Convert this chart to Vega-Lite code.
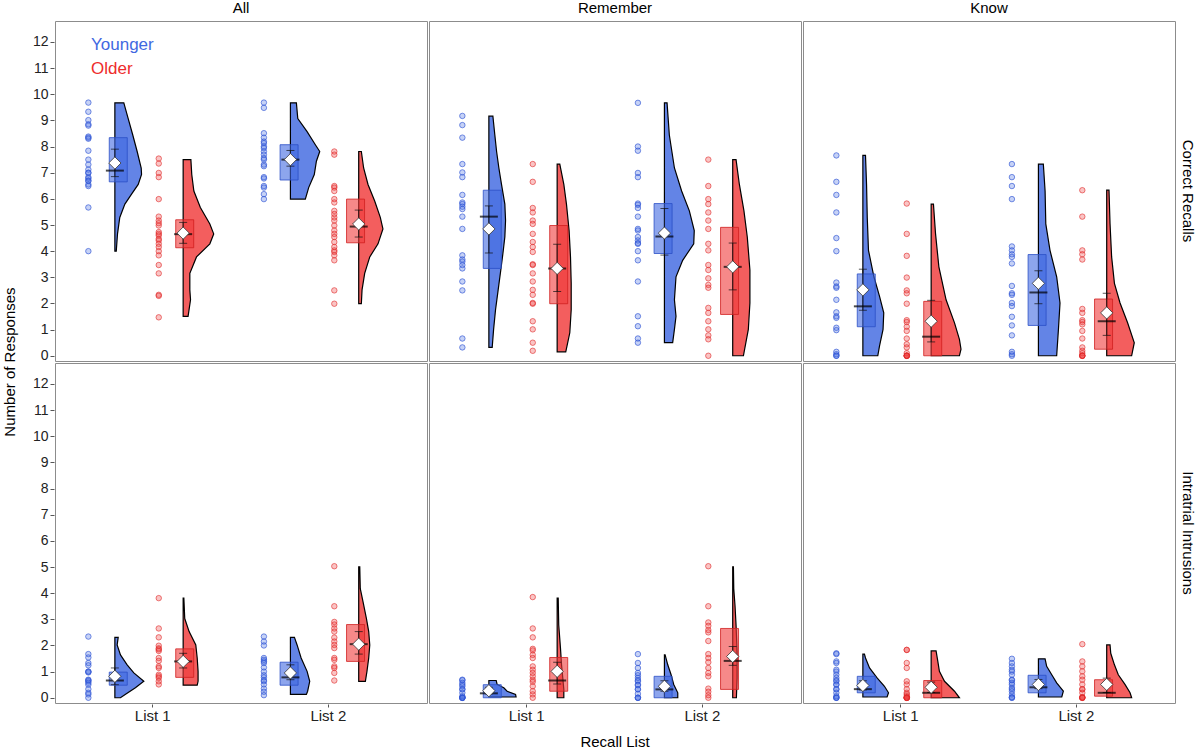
{
"$schema":"https://vega.github.io/schema/vega-lite/v6.json",
"padding":{"left":2,"right":2,"top":1,"bottom":0},
"background":"white",
"config":{"font":"Liberation Sans","view":{"stroke":"#8c8c8c","strokeWidth":1},"axis":{"grid":false,"domain":false,"tickColor":"#555","labelColor":"#222","titleColor":"#000","titleFontWeight":"normal","labelFontSize":14,"titleFontSize":15},"axisY":{"tickCount":13,"labelOverlap":false},"header":{"labelFontSize":15,"labelColor":"#000","labelFontWeight":"normal","titleFontWeight":"normal","titleFontSize":15,"titleColor":"#000"}},
"data":{"values":[
{"m":"All","t":"CR","l":1,"g":"Y","v":9.68},{"m":"All","t":"CR","l":1,"g":"Y","v":9.33},{"m":"All","t":"CR","l":1,"g":"Y","v":9.01},{"m":"All","t":"CR","l":1,"g":"Y","v":8.85},{"m":"All","t":"CR","l":1,"g":"Y","v":8.8},{"m":"All","t":"CR","l":1,"g":"Y","v":8.38},{"m":"All","t":"CR","l":1,"g":"Y","v":8.34},{"m":"All","t":"CR","l":1,"g":"Y","v":8.3},{"m":"All","t":"CR","l":1,"g":"Y","v":7.84},{"m":"All","t":"CR","l":1,"g":"Y","v":7.5},{"m":"All","t":"CR","l":1,"g":"Y","v":7.31},{"m":"All","t":"CR","l":1,"g":"Y","v":7.12},{"m":"All","t":"CR","l":1,"g":"Y","v":7.0},{"m":"All","t":"CR","l":1,"g":"Y","v":6.99},{"m":"All","t":"CR","l":1,"g":"Y","v":6.83},{"m":"All","t":"CR","l":1,"g":"Y","v":6.78},{"m":"All","t":"CR","l":1,"g":"Y","v":6.7},{"m":"All","t":"CR","l":1,"g":"Y","v":6.68},{"m":"All","t":"CR","l":1,"g":"Y","v":6.55},{"m":"All","t":"CR","l":1,"g":"Y","v":6.49},{"m":"All","t":"CR","l":1,"g":"Y","v":5.67},{"m":"All","t":"CR","l":1,"g":"Y","v":4.0},
{"m":"All","t":"CR","l":1,"g":"O","v":7.54},{"m":"All","t":"CR","l":1,"g":"O","v":7.35},{"m":"All","t":"CR","l":1,"g":"O","v":6.99},{"m":"All","t":"CR","l":1,"g":"O","v":6.83},{"m":"All","t":"CR","l":1,"g":"O","v":5.99},{"m":"All","t":"CR","l":1,"g":"O","v":5.32},{"m":"All","t":"CR","l":1,"g":"O","v":5.17},{"m":"All","t":"CR","l":1,"g":"O","v":5.07},{"m":"All","t":"CR","l":1,"g":"O","v":4.98},{"m":"All","t":"CR","l":1,"g":"O","v":4.73},{"m":"All","t":"CR","l":1,"g":"O","v":4.66},{"m":"All","t":"CR","l":1,"g":"O","v":4.6},{"m":"All","t":"CR","l":1,"g":"O","v":4.47},{"m":"All","t":"CR","l":1,"g":"O","v":4.41},{"m":"All","t":"CR","l":1,"g":"O","v":4.28},{"m":"All","t":"CR","l":1,"g":"O","v":4.16},{"m":"All","t":"CR","l":1,"g":"O","v":4.0},{"m":"All","t":"CR","l":1,"g":"O","v":3.84},{"m":"All","t":"CR","l":1,"g":"O","v":3.47},{"m":"All","t":"CR","l":1,"g":"O","v":3.15},{"m":"All","t":"CR","l":1,"g":"O","v":2.33},{"m":"All","t":"CR","l":1,"g":"O","v":2.29},{"m":"All","t":"CR","l":1,"g":"O","v":1.47},
{"m":"All","t":"CR","l":2,"g":"Y","v":9.68},{"m":"All","t":"CR","l":2,"g":"Y","v":9.48},{"m":"All","t":"CR","l":2,"g":"Y","v":8.51},{"m":"All","t":"CR","l":2,"g":"Y","v":8.34},{"m":"All","t":"CR","l":2,"g":"Y","v":8.19},{"m":"All","t":"CR","l":2,"g":"Y","v":8.13},{"m":"All","t":"CR","l":2,"g":"Y","v":8.0},{"m":"All","t":"CR","l":2,"g":"Y","v":7.94},{"m":"All","t":"CR","l":2,"g":"Y","v":7.81},{"m":"All","t":"CR","l":2,"g":"Y","v":7.69},{"m":"All","t":"CR","l":2,"g":"Y","v":7.56},{"m":"All","t":"CR","l":2,"g":"Y","v":7.5},{"m":"All","t":"CR","l":2,"g":"Y","v":7.31},{"m":"All","t":"CR","l":2,"g":"Y","v":7.25},{"m":"All","t":"CR","l":2,"g":"Y","v":6.83},{"m":"All","t":"CR","l":2,"g":"Y","v":6.78},{"m":"All","t":"CR","l":2,"g":"Y","v":6.49},{"m":"All","t":"CR","l":2,"g":"Y","v":6.43},{"m":"All","t":"CR","l":2,"g":"Y","v":6.18},{"m":"All","t":"CR","l":2,"g":"Y","v":5.99},
{"m":"All","t":"CR","l":2,"g":"O","v":7.81},{"m":"All","t":"CR","l":2,"g":"O","v":7.69},{"m":"All","t":"CR","l":2,"g":"O","v":6.49},{"m":"All","t":"CR","l":2,"g":"O","v":6.43},{"m":"All","t":"CR","l":2,"g":"O","v":6.3},{"m":"All","t":"CR","l":2,"g":"O","v":5.99},{"m":"All","t":"CR","l":2,"g":"O","v":5.86},{"m":"All","t":"CR","l":2,"g":"O","v":5.54},{"m":"All","t":"CR","l":2,"g":"O","v":5.42},{"m":"All","t":"CR","l":2,"g":"O","v":5.29},{"m":"All","t":"CR","l":2,"g":"O","v":5.17},{"m":"All","t":"CR","l":2,"g":"O","v":4.98},{"m":"All","t":"CR","l":2,"g":"O","v":4.79},{"m":"All","t":"CR","l":2,"g":"O","v":4.66},{"m":"All","t":"CR","l":2,"g":"O","v":4.54},{"m":"All","t":"CR","l":2,"g":"O","v":4.35},{"m":"All","t":"CR","l":2,"g":"O","v":4.16},{"m":"All","t":"CR","l":2,"g":"O","v":4.03},{"m":"All","t":"CR","l":2,"g":"O","v":3.97},{"m":"All","t":"CR","l":2,"g":"O","v":3.84},{"m":"All","t":"CR","l":2,"g":"O","v":3.65},{"m":"All","t":"CR","l":2,"g":"O","v":2.5},{"m":"All","t":"CR","l":2,"g":"O","v":1.99},
{"m":"Remember","t":"CR","l":1,"g":"Y","v":9.17},{"m":"Remember","t":"CR","l":1,"g":"Y","v":8.82},{"m":"Remember","t":"CR","l":1,"g":"Y","v":8.34},{"m":"Remember","t":"CR","l":1,"g":"Y","v":7.33},{"m":"Remember","t":"CR","l":1,"g":"Y","v":7.01},{"m":"Remember","t":"CR","l":1,"g":"Y","v":6.83},{"m":"Remember","t":"CR","l":1,"g":"Y","v":6.15},{"m":"Remember","t":"CR","l":1,"g":"Y","v":5.86},{"m":"Remember","t":"CR","l":1,"g":"Y","v":5.8},{"m":"Remember","t":"CR","l":1,"g":"Y","v":5.7},{"m":"Remember","t":"CR","l":1,"g":"Y","v":5.61},{"m":"Remember","t":"CR","l":1,"g":"Y","v":5.32},{"m":"Remember","t":"CR","l":1,"g":"Y","v":4.85},{"m":"Remember","t":"CR","l":1,"g":"Y","v":3.84},{"m":"Remember","t":"CR","l":1,"g":"Y","v":3.68},{"m":"Remember","t":"CR","l":1,"g":"Y","v":3.6},{"m":"Remember","t":"CR","l":1,"g":"Y","v":3.47},{"m":"Remember","t":"CR","l":1,"g":"Y","v":3.34},{"m":"Remember","t":"CR","l":1,"g":"Y","v":2.84},{"m":"Remember","t":"CR","l":1,"g":"Y","v":2.5},{"m":"Remember","t":"CR","l":1,"g":"Y","v":0.66},{"m":"Remember","t":"CR","l":1,"g":"Y","v":0.32},
{"m":"Remember","t":"CR","l":1,"g":"O","v":7.33},{"m":"Remember","t":"CR","l":1,"g":"O","v":6.65},{"m":"Remember","t":"CR","l":1,"g":"O","v":5.65},{"m":"Remember","t":"CR","l":1,"g":"O","v":5.48},{"m":"Remember","t":"CR","l":1,"g":"O","v":5.17},{"m":"Remember","t":"CR","l":1,"g":"O","v":5.04},{"m":"Remember","t":"CR","l":1,"g":"O","v":4.66},{"m":"Remember","t":"CR","l":1,"g":"O","v":4.35},{"m":"Remember","t":"CR","l":1,"g":"O","v":4.16},{"m":"Remember","t":"CR","l":1,"g":"O","v":3.97},{"m":"Remember","t":"CR","l":1,"g":"O","v":3.5},{"m":"Remember","t":"CR","l":1,"g":"O","v":3.47},{"m":"Remember","t":"CR","l":1,"g":"O","v":3.15},{"m":"Remember","t":"CR","l":1,"g":"O","v":2.84},{"m":"Remember","t":"CR","l":1,"g":"O","v":2.52},{"m":"Remember","t":"CR","l":1,"g":"O","v":2.33},{"m":"Remember","t":"CR","l":1,"g":"O","v":2.02},{"m":"Remember","t":"CR","l":1,"g":"O","v":1.99},{"m":"Remember","t":"CR","l":1,"g":"O","v":1.32},{"m":"Remember","t":"CR","l":1,"g":"O","v":1.01},{"m":"Remember","t":"CR","l":1,"g":"O","v":0.5},{"m":"Remember","t":"CR","l":1,"g":"O","v":0.19},
{"m":"Remember","t":"CR","l":2,"g":"Y","v":9.67},{"m":"Remember","t":"CR","l":2,"g":"Y","v":8.0},{"m":"Remember","t":"CR","l":2,"g":"Y","v":7.84},{"m":"Remember","t":"CR","l":2,"g":"Y","v":6.99},{"m":"Remember","t":"CR","l":2,"g":"Y","v":6.83},{"m":"Remember","t":"CR","l":2,"g":"Y","v":5.82},{"m":"Remember","t":"CR","l":2,"g":"Y","v":5.77},{"m":"Remember","t":"CR","l":2,"g":"Y","v":5.65},{"m":"Remember","t":"CR","l":2,"g":"Y","v":5.32},{"m":"Remember","t":"CR","l":2,"g":"Y","v":4.85},{"m":"Remember","t":"CR","l":2,"g":"Y","v":4.79},{"m":"Remember","t":"CR","l":2,"g":"Y","v":4.54},{"m":"Remember","t":"CR","l":2,"g":"Y","v":4.41},{"m":"Remember","t":"CR","l":2,"g":"Y","v":4.31},{"m":"Remember","t":"CR","l":2,"g":"Y","v":4.28},{"m":"Remember","t":"CR","l":2,"g":"Y","v":4.0},{"m":"Remember","t":"CR","l":2,"g":"Y","v":3.65},{"m":"Remember","t":"CR","l":2,"g":"Y","v":2.84},{"m":"Remember","t":"CR","l":2,"g":"Y","v":1.51},{"m":"Remember","t":"CR","l":2,"g":"Y","v":1.13},{"m":"Remember","t":"CR","l":2,"g":"Y","v":0.66},{"m":"Remember","t":"CR","l":2,"g":"Y","v":0.5},
{"m":"Remember","t":"CR","l":2,"g":"O","v":7.5},{"m":"Remember","t":"CR","l":2,"g":"O","v":6.49},{"m":"Remember","t":"CR","l":2,"g":"O","v":5.99},{"m":"Remember","t":"CR","l":2,"g":"O","v":5.8},{"m":"Remember","t":"CR","l":2,"g":"O","v":5.48},{"m":"Remember","t":"CR","l":2,"g":"O","v":5.17},{"m":"Remember","t":"CR","l":2,"g":"O","v":4.85},{"m":"Remember","t":"CR","l":2,"g":"O","v":4.28},{"m":"Remember","t":"CR","l":2,"g":"O","v":4.03},{"m":"Remember","t":"CR","l":2,"g":"O","v":3.47},{"m":"Remember","t":"CR","l":2,"g":"O","v":3.28},{"m":"Remember","t":"CR","l":2,"g":"O","v":2.96},{"m":"Remember","t":"CR","l":2,"g":"O","v":2.71},{"m":"Remember","t":"CR","l":2,"g":"O","v":2.6},{"m":"Remember","t":"CR","l":2,"g":"O","v":1.83},{"m":"Remember","t":"CR","l":2,"g":"O","v":1.64},{"m":"Remember","t":"CR","l":2,"g":"O","v":1.32},{"m":"Remember","t":"CR","l":2,"g":"O","v":1.01},{"m":"Remember","t":"CR","l":2,"g":"O","v":0.78},{"m":"Remember","t":"CR","l":2,"g":"O","v":0.63},{"m":"Remember","t":"CR","l":2,"g":"O","v":0.0},
{"m":"Know","t":"CR","l":1,"g":"Y","v":7.66},{"m":"Know","t":"CR","l":1,"g":"Y","v":6.65},{"m":"Know","t":"CR","l":1,"g":"Y","v":6.15},{"m":"Know","t":"CR","l":1,"g":"Y","v":5.48},{"m":"Know","t":"CR","l":1,"g":"Y","v":4.5},{"m":"Know","t":"CR","l":1,"g":"Y","v":4.0},{"m":"Know","t":"CR","l":1,"g":"Y","v":2.8},{"m":"Know","t":"CR","l":1,"g":"Y","v":2.65},{"m":"Know","t":"CR","l":1,"g":"Y","v":2.6},{"m":"Know","t":"CR","l":1,"g":"Y","v":2.14},{"m":"Know","t":"CR","l":1,"g":"Y","v":1.66},{"m":"Know","t":"CR","l":1,"g":"Y","v":1.51},{"m":"Know","t":"CR","l":1,"g":"Y","v":1.45},{"m":"Know","t":"CR","l":1,"g":"Y","v":1.07},{"m":"Know","t":"CR","l":1,"g":"Y","v":0.98},{"m":"Know","t":"CR","l":1,"g":"Y","v":0.15},{"m":"Know","t":"CR","l":1,"g":"Y","v":0.06},{"m":"Know","t":"CR","l":1,"g":"Y","v":0.0},{"m":"Know","t":"CR","l":1,"g":"Y","v":0.0},
{"m":"Know","t":"CR","l":1,"g":"O","v":5.82},{"m":"Know","t":"CR","l":1,"g":"O","v":4.66},{"m":"Know","t":"CR","l":1,"g":"O","v":3.82},{"m":"Know","t":"CR","l":1,"g":"O","v":2.99},{"m":"Know","t":"CR","l":1,"g":"O","v":2.5},{"m":"Know","t":"CR","l":1,"g":"O","v":2.39},{"m":"Know","t":"CR","l":1,"g":"O","v":1.99},{"m":"Know","t":"CR","l":1,"g":"O","v":1.36},{"m":"Know","t":"CR","l":1,"g":"O","v":1.29},{"m":"Know","t":"CR","l":1,"g":"O","v":1.11},{"m":"Know","t":"CR","l":1,"g":"O","v":0.95},{"m":"Know","t":"CR","l":1,"g":"O","v":0.66},{"m":"Know","t":"CR","l":1,"g":"O","v":0.44},{"m":"Know","t":"CR","l":1,"g":"O","v":0.32},{"m":"Know","t":"CR","l":1,"g":"O","v":0.1},{"m":"Know","t":"CR","l":1,"g":"O","v":0.0},{"m":"Know","t":"CR","l":1,"g":"O","v":0.0},{"m":"Know","t":"CR","l":1,"g":"O","v":0.0},{"m":"Know","t":"CR","l":1,"g":"O","v":0.0},{"m":"Know","t":"CR","l":1,"g":"O","v":0.0},
{"m":"Know","t":"CR","l":2,"g":"Y","v":7.33},{"m":"Know","t":"CR","l":2,"g":"Y","v":6.83},{"m":"Know","t":"CR","l":2,"g":"Y","v":6.49},{"m":"Know","t":"CR","l":2,"g":"Y","v":5.99},{"m":"Know","t":"CR","l":2,"g":"Y","v":4.18},{"m":"Know","t":"CR","l":2,"g":"Y","v":4.03},{"m":"Know","t":"CR","l":2,"g":"Y","v":3.88},{"m":"Know","t":"CR","l":2,"g":"Y","v":3.78},{"m":"Know","t":"CR","l":2,"g":"Y","v":3.53},{"m":"Know","t":"CR","l":2,"g":"Y","v":2.67},{"m":"Know","t":"CR","l":2,"g":"Y","v":2.39},{"m":"Know","t":"CR","l":2,"g":"Y","v":2.33},{"m":"Know","t":"CR","l":2,"g":"Y","v":2.02},{"m":"Know","t":"CR","l":2,"g":"Y","v":1.9},{"m":"Know","t":"CR","l":2,"g":"Y","v":1.49},{"m":"Know","t":"CR","l":2,"g":"Y","v":1.16},{"m":"Know","t":"CR","l":2,"g":"Y","v":0.78},{"m":"Know","t":"CR","l":2,"g":"Y","v":0.15},{"m":"Know","t":"CR","l":2,"g":"Y","v":0.06},{"m":"Know","t":"CR","l":2,"g":"Y","v":0.0},
{"m":"Know","t":"CR","l":2,"g":"O","v":6.33},{"m":"Know","t":"CR","l":2,"g":"O","v":5.32},{"m":"Know","t":"CR","l":2,"g":"O","v":4.03},{"m":"Know","t":"CR","l":2,"g":"O","v":3.88},{"m":"Know","t":"CR","l":2,"g":"O","v":3.68},{"m":"Know","t":"CR","l":2,"g":"O","v":1.79},{"m":"Know","t":"CR","l":2,"g":"O","v":1.64},{"m":"Know","t":"CR","l":2,"g":"O","v":1.36},{"m":"Know","t":"CR","l":2,"g":"O","v":1.29},{"m":"Know","t":"CR","l":2,"g":"O","v":1.2},{"m":"Know","t":"CR","l":2,"g":"O","v":0.95},{"m":"Know","t":"CR","l":2,"g":"O","v":0.66},{"m":"Know","t":"CR","l":2,"g":"O","v":0.32},{"m":"Know","t":"CR","l":2,"g":"O","v":0.19},{"m":"Know","t":"CR","l":2,"g":"O","v":0.1},{"m":"Know","t":"CR","l":2,"g":"O","v":0.0},{"m":"Know","t":"CR","l":2,"g":"O","v":0.0},{"m":"Know","t":"CR","l":2,"g":"O","v":0.0},{"m":"Know","t":"CR","l":2,"g":"O","v":0.0},
{"m":"All","t":"II","l":1,"g":"Y","v":2.34},{"m":"All","t":"II","l":1,"g":"Y","v":1.67},{"m":"All","t":"II","l":1,"g":"Y","v":1.54},{"m":"All","t":"II","l":1,"g":"Y","v":1.33},{"m":"All","t":"II","l":1,"g":"Y","v":1.24},{"m":"All","t":"II","l":1,"g":"Y","v":1.0},{"m":"All","t":"II","l":1,"g":"Y","v":1.0},{"m":"All","t":"II","l":1,"g":"Y","v":0.97},{"m":"All","t":"II","l":1,"g":"Y","v":0.69},{"m":"All","t":"II","l":1,"g":"Y","v":0.67},{"m":"All","t":"II","l":1,"g":"Y","v":0.63},{"m":"All","t":"II","l":1,"g":"Y","v":0.57},{"m":"All","t":"II","l":1,"g":"Y","v":0.5},{"m":"All","t":"II","l":1,"g":"Y","v":0.33},{"m":"All","t":"II","l":1,"g":"Y","v":0.19},{"m":"All","t":"II","l":1,"g":"Y","v":0.13},{"m":"All","t":"II","l":1,"g":"Y","v":0.0},
{"m":"All","t":"II","l":1,"g":"O","v":3.81},{"m":"All","t":"II","l":1,"g":"O","v":2.65},{"m":"All","t":"II","l":1,"g":"O","v":2.31},{"m":"All","t":"II","l":1,"g":"O","v":1.99},{"m":"All","t":"II","l":1,"g":"O","v":1.89},{"m":"All","t":"II","l":1,"g":"O","v":1.85},{"m":"All","t":"II","l":1,"g":"O","v":1.79},{"m":"All","t":"II","l":1,"g":"O","v":1.52},{"m":"All","t":"II","l":1,"g":"O","v":1.41},{"m":"All","t":"II","l":1,"g":"O","v":1.2},{"m":"All","t":"II","l":1,"g":"O","v":1.14},{"m":"All","t":"II","l":1,"g":"O","v":0.88},{"m":"All","t":"II","l":1,"g":"O","v":0.82},{"m":"All","t":"II","l":1,"g":"O","v":0.76},{"m":"All","t":"II","l":1,"g":"O","v":0.63},{"m":"All","t":"II","l":1,"g":"O","v":0.51},
{"m":"All","t":"II","l":2,"g":"Y","v":2.34},{"m":"All","t":"II","l":2,"g":"Y","v":2.15},{"m":"All","t":"II","l":2,"g":"Y","v":2.0},{"m":"All","t":"II","l":2,"g":"Y","v":1.52},{"m":"All","t":"II","l":2,"g":"Y","v":1.45},{"m":"All","t":"II","l":2,"g":"Y","v":1.39},{"m":"All","t":"II","l":2,"g":"Y","v":1.33},{"m":"All","t":"II","l":2,"g":"Y","v":1.16},{"m":"All","t":"II","l":2,"g":"Y","v":1.0},{"m":"All","t":"II","l":2,"g":"Y","v":0.86},{"m":"All","t":"II","l":2,"g":"Y","v":0.78},{"m":"All","t":"II","l":2,"g":"Y","v":0.67},{"m":"All","t":"II","l":2,"g":"Y","v":0.63},{"m":"All","t":"II","l":2,"g":"Y","v":0.51},{"m":"All","t":"II","l":2,"g":"Y","v":0.35},{"m":"All","t":"II","l":2,"g":"Y","v":0.23},{"m":"All","t":"II","l":2,"g":"Y","v":0.1},
{"m":"All","t":"II","l":2,"g":"O","v":5.03},{"m":"All","t":"II","l":2,"g":"O","v":3.5},{"m":"All","t":"II","l":2,"g":"O","v":2.9},{"m":"All","t":"II","l":2,"g":"O","v":2.8},{"m":"All","t":"II","l":2,"g":"O","v":2.65},{"m":"All","t":"II","l":2,"g":"O","v":2.53},{"m":"All","t":"II","l":2,"g":"O","v":2.3},{"m":"All","t":"II","l":2,"g":"O","v":2.15},{"m":"All","t":"II","l":2,"g":"O","v":2.02},{"m":"All","t":"II","l":2,"g":"O","v":1.9},{"m":"All","t":"II","l":2,"g":"O","v":1.52},{"m":"All","t":"II","l":2,"g":"O","v":1.45},{"m":"All","t":"II","l":2,"g":"O","v":1.2},{"m":"All","t":"II","l":2,"g":"O","v":1.14},{"m":"All","t":"II","l":2,"g":"O","v":0.95},{"m":"All","t":"II","l":2,"g":"O","v":0.66},
{"m":"Remember","t":"II","l":1,"g":"Y","v":0.69},{"m":"Remember","t":"II","l":1,"g":"Y","v":0.67},{"m":"Remember","t":"II","l":1,"g":"Y","v":0.57},{"m":"Remember","t":"II","l":1,"g":"Y","v":0.5},{"m":"Remember","t":"II","l":1,"g":"Y","v":0.44},{"m":"Remember","t":"II","l":1,"g":"Y","v":0.33},{"m":"Remember","t":"II","l":1,"g":"Y","v":0.32},{"m":"Remember","t":"II","l":1,"g":"Y","v":0.19},{"m":"Remember","t":"II","l":1,"g":"Y","v":0.06},{"m":"Remember","t":"II","l":1,"g":"Y","v":0.0},{"m":"Remember","t":"II","l":1,"g":"Y","v":0.0},{"m":"Remember","t":"II","l":1,"g":"Y","v":0.0},{"m":"Remember","t":"II","l":1,"g":"Y","v":0.0},{"m":"Remember","t":"II","l":1,"g":"Y","v":0.0},
{"m":"Remember","t":"II","l":1,"g":"O","v":3.85},{"m":"Remember","t":"II","l":1,"g":"O","v":2.65},{"m":"Remember","t":"II","l":1,"g":"O","v":2.31},{"m":"Remember","t":"II","l":1,"g":"O","v":1.87},{"m":"Remember","t":"II","l":1,"g":"O","v":1.81},{"m":"Remember","t":"II","l":1,"g":"O","v":1.64},{"m":"Remember","t":"II","l":1,"g":"O","v":1.52},{"m":"Remember","t":"II","l":1,"g":"O","v":1.2},{"m":"Remember","t":"II","l":1,"g":"O","v":1.07},{"m":"Remember","t":"II","l":1,"g":"O","v":0.95},{"m":"Remember","t":"II","l":1,"g":"O","v":0.82},{"m":"Remember","t":"II","l":1,"g":"O","v":0.69},{"m":"Remember","t":"II","l":1,"g":"O","v":0.61},{"m":"Remember","t":"II","l":1,"g":"O","v":0.44},{"m":"Remember","t":"II","l":1,"g":"O","v":0.25},{"m":"Remember","t":"II","l":1,"g":"O","v":0.13},{"m":"Remember","t":"II","l":1,"g":"O","v":0.0},
{"m":"Remember","t":"II","l":2,"g":"Y","v":1.67},{"m":"Remember","t":"II","l":2,"g":"Y","v":1.33},{"m":"Remember","t":"II","l":2,"g":"Y","v":1.14},{"m":"Remember","t":"II","l":2,"g":"Y","v":0.95},{"m":"Remember","t":"II","l":2,"g":"Y","v":0.86},{"m":"Remember","t":"II","l":2,"g":"Y","v":0.76},{"m":"Remember","t":"II","l":2,"g":"Y","v":0.67},{"m":"Remember","t":"II","l":2,"g":"Y","v":0.63},{"m":"Remember","t":"II","l":2,"g":"Y","v":0.5},{"m":"Remember","t":"II","l":2,"g":"Y","v":0.48},{"m":"Remember","t":"II","l":2,"g":"Y","v":0.33},{"m":"Remember","t":"II","l":2,"g":"Y","v":0.32},{"m":"Remember","t":"II","l":2,"g":"Y","v":0.15},{"m":"Remember","t":"II","l":2,"g":"Y","v":0.0},{"m":"Remember","t":"II","l":2,"g":"Y","v":0.0},{"m":"Remember","t":"II","l":2,"g":"Y","v":0.0},
{"m":"Remember","t":"II","l":2,"g":"O","v":5.03},{"m":"Remember","t":"II","l":2,"g":"O","v":3.5},{"m":"Remember","t":"II","l":2,"g":"O","v":2.88},{"m":"Remember","t":"II","l":2,"g":"O","v":2.75},{"m":"Remember","t":"II","l":2,"g":"O","v":2.59},{"m":"Remember","t":"II","l":2,"g":"O","v":2.5},{"m":"Remember","t":"II","l":2,"g":"O","v":2.17},{"m":"Remember","t":"II","l":2,"g":"O","v":1.67},{"m":"Remember","t":"II","l":2,"g":"O","v":1.52},{"m":"Remember","t":"II","l":2,"g":"O","v":1.36},{"m":"Remember","t":"II","l":2,"g":"O","v":1.14},{"m":"Remember","t":"II","l":2,"g":"O","v":0.95},{"m":"Remember","t":"II","l":2,"g":"O","v":0.82},{"m":"Remember","t":"II","l":2,"g":"O","v":0.35},{"m":"Remember","t":"II","l":2,"g":"O","v":0.23},{"m":"Remember","t":"II","l":2,"g":"O","v":0.1},{"m":"Remember","t":"II","l":2,"g":"O","v":0.0},
{"m":"Know","t":"II","l":1,"g":"Y","v":1.7},{"m":"Know","t":"II","l":1,"g":"Y","v":1.67},{"m":"Know","t":"II","l":1,"g":"Y","v":1.39},{"m":"Know","t":"II","l":1,"g":"Y","v":1.33},{"m":"Know","t":"II","l":1,"g":"Y","v":1.07},{"m":"Know","t":"II","l":1,"g":"Y","v":1.0},{"m":"Know","t":"II","l":1,"g":"Y","v":0.88},{"m":"Know","t":"II","l":1,"g":"Y","v":0.76},{"m":"Know","t":"II","l":1,"g":"Y","v":0.67},{"m":"Know","t":"II","l":1,"g":"Y","v":0.63},{"m":"Know","t":"II","l":1,"g":"Y","v":0.51},{"m":"Know","t":"II","l":1,"g":"Y","v":0.5},{"m":"Know","t":"II","l":1,"g":"Y","v":0.33},{"m":"Know","t":"II","l":1,"g":"Y","v":0.32},{"m":"Know","t":"II","l":1,"g":"Y","v":0.19},{"m":"Know","t":"II","l":1,"g":"Y","v":0.06},{"m":"Know","t":"II","l":1,"g":"Y","v":0.0},{"m":"Know","t":"II","l":1,"g":"Y","v":0.0},{"m":"Know","t":"II","l":1,"g":"Y","v":0.0},
{"m":"Know","t":"II","l":1,"g":"O","v":1.83},{"m":"Know","t":"II","l":1,"g":"O","v":1.83},{"m":"Know","t":"II","l":1,"g":"O","v":1.33},{"m":"Know","t":"II","l":1,"g":"O","v":1.14},{"m":"Know","t":"II","l":1,"g":"O","v":0.63},{"m":"Know","t":"II","l":1,"g":"O","v":0.51},{"m":"Know","t":"II","l":1,"g":"O","v":0.33},{"m":"Know","t":"II","l":1,"g":"O","v":0.19},{"m":"Know","t":"II","l":1,"g":"O","v":0.13},{"m":"Know","t":"II","l":1,"g":"O","v":0.06},{"m":"Know","t":"II","l":1,"g":"O","v":0.0},{"m":"Know","t":"II","l":1,"g":"O","v":0.0},{"m":"Know","t":"II","l":1,"g":"O","v":0.0},{"m":"Know","t":"II","l":1,"g":"O","v":0.0},{"m":"Know","t":"II","l":1,"g":"O","v":0.0},{"m":"Know","t":"II","l":1,"g":"O","v":0.0},
{"m":"Know","t":"II","l":2,"g":"Y","v":1.49},{"m":"Know","t":"II","l":2,"g":"Y","v":1.33},{"m":"Know","t":"II","l":2,"g":"Y","v":1.2},{"m":"Know","t":"II","l":2,"g":"Y","v":1.07},{"m":"Know","t":"II","l":2,"g":"Y","v":1.0},{"m":"Know","t":"II","l":2,"g":"Y","v":0.88},{"m":"Know","t":"II","l":2,"g":"Y","v":0.69},{"m":"Know","t":"II","l":2,"g":"Y","v":0.67},{"m":"Know","t":"II","l":2,"g":"Y","v":0.57},{"m":"Know","t":"II","l":2,"g":"Y","v":0.5},{"m":"Know","t":"II","l":2,"g":"Y","v":0.38},{"m":"Know","t":"II","l":2,"g":"Y","v":0.33},{"m":"Know","t":"II","l":2,"g":"Y","v":0.25},{"m":"Know","t":"II","l":2,"g":"Y","v":0.13},{"m":"Know","t":"II","l":2,"g":"Y","v":0.03},{"m":"Know","t":"II","l":2,"g":"Y","v":0.0},{"m":"Know","t":"II","l":2,"g":"Y","v":0.0},
{"m":"Know","t":"II","l":2,"g":"O","v":2.05},{"m":"Know","t":"II","l":2,"g":"O","v":1.39},{"m":"Know","t":"II","l":2,"g":"O","v":1.2},{"m":"Know","t":"II","l":2,"g":"O","v":1.01},{"m":"Know","t":"II","l":2,"g":"O","v":0.82},{"m":"Know","t":"II","l":2,"g":"O","v":0.69},{"m":"Know","t":"II","l":2,"g":"O","v":0.51},{"m":"Know","t":"II","l":2,"g":"O","v":0.33},{"m":"Know","t":"II","l":2,"g":"O","v":0.32},{"m":"Know","t":"II","l":2,"g":"O","v":0.19},{"m":"Know","t":"II","l":2,"g":"O","v":0.03},{"m":"Know","t":"II","l":2,"g":"O","v":0.0},{"m":"Know","t":"II","l":2,"g":"O","v":0.0},{"m":"Know","t":"II","l":2,"g":"O","v":0.0},{"m":"Know","t":"II","l":2,"g":"O","v":0.0},
{"m":"All","t":"CR","l":1,"g":"Y","q1":6.65,"med":7.08,"q3":8.34,"mean":7.37,"lo":6.85,"hi":7.9},
{"m":"All","t":"CR","l":1,"g":"O","q1":4.13,"med":4.65,"q3":5.2,"mean":4.69,"lo":4.3,"hi":5.1},
{"m":"All","t":"CR","l":2,"g":"Y","q1":6.72,"med":7.5,"q3":8.07,"mean":7.5,"lo":7.25,"hi":7.85},
{"m":"All","t":"CR","l":2,"g":"O","q1":4.32,"med":4.94,"q3":5.99,"mean":5.04,"lo":4.54,"hi":5.57},
{"m":"Remember","t":"CR","l":1,"g":"Y","q1":3.34,"med":5.32,"q3":6.33,"mean":4.85,"lo":3.93,"hi":5.73},
{"m":"Remember","t":"CR","l":1,"g":"O","q1":1.99,"med":3.34,"q3":4.98,"mean":3.34,"lo":2.46,"hi":4.26},
{"m":"Remember","t":"CR","l":2,"g":"Y","q1":3.91,"med":4.56,"q3":5.82,"mean":4.69,"lo":3.85,"hi":5.63},
{"m":"Remember","t":"CR","l":2,"g":"O","q1":1.58,"med":3.4,"q3":4.91,"mean":3.4,"lo":2.52,"hi":4.31},
{"m":"Know","t":"CR","l":1,"g":"Y","q1":1.11,"med":1.89,"q3":3.13,"mean":2.52,"lo":1.74,"hi":3.31},
{"m":"Know","t":"CR","l":1,"g":"O","q1":0.0,"med":0.73,"q3":2.08,"mean":1.32,"lo":0.53,"hi":2.12},
{"m":"Know","t":"CR","l":2,"g":"Y","q1":1.16,"med":2.42,"q3":3.87,"mean":2.77,"lo":1.99,"hi":3.25},
{"m":"Know","t":"CR","l":2,"g":"O","q1":0.25,"med":1.32,"q3":2.17,"mean":1.64,"lo":0.78,"hi":2.39},
{"m":"All","t":"II","l":1,"g":"Y","q1":0.48,"med":0.66,"q3":0.98,"mean":0.82,"lo":0.5,"hi":1.14},
{"m":"All","t":"II","l":1,"g":"O","q1":0.78,"med":1.39,"q3":1.87,"mean":1.39,"lo":1.14,"hi":1.7},
{"m":"All","t":"II","l":2,"g":"Y","q1":0.48,"med":0.78,"q3":1.36,"mean":0.95,"lo":0.69,"hi":1.26},
{"m":"All","t":"II","l":2,"g":"O","q1":1.39,"med":2.05,"q3":2.8,"mean":2.05,"lo":1.67,"hi":2.53},
{"m":"Remember","t":"II","l":1,"g":"Y","q1":0.0,"med":0.17,"q3":0.5,"mean":0.27,"lo":0.15,"hi":0.4},
{"m":"Remember","t":"II","l":1,"g":"O","q1":0.25,"med":0.66,"q3":1.54,"mean":1.01,"lo":0.53,"hi":1.36},
{"m":"Remember","t":"II","l":2,"g":"Y","q1":0.0,"med":0.32,"q3":0.82,"mean":0.44,"lo":0.25,"hi":0.65},
{"m":"Remember","t":"II","l":2,"g":"O","q1":0.32,"med":1.41,"q3":2.65,"mean":1.58,"lo":1.24,"hi":1.96},
{"m":"Know","t":"II","l":1,"g":"Y","q1":0.19,"med":0.33,"q3":0.82,"mean":0.47,"lo":0.3,"hi":0.65},
{"m":"Know","t":"II","l":1,"g":"O","q1":0.0,"med":0.19,"q3":0.66,"mean":0.4,"lo":0.2,"hi":0.6},
{"m":"Know","t":"II","l":2,"g":"Y","q1":0.19,"med":0.4,"q3":0.86,"mean":0.51,"lo":0.35,"hi":0.7},
{"m":"Know","t":"II","l":2,"g":"O","q1":0.06,"med":0.19,"q3":0.69,"mean":0.51,"lo":0.2,"hi":0.75},
{"m":"All","t":"CR","l":1,"g":"Y","v":9.67,"w":0.051},{"m":"All","t":"CR","l":1,"g":"Y","v":9.07,"w":0.076},{"m":"All","t":"CR","l":1,"g":"Y","v":8.44,"w":0.102},{"m":"All","t":"CR","l":1,"g":"Y","v":7.81,"w":0.127},{"m":"All","t":"CR","l":1,"g":"Y","v":7.18,"w":0.15},{"m":"All","t":"CR","l":1,"g":"Y","v":6.93,"w":0.152},{"m":"All","t":"CR","l":1,"g":"Y","v":6.55,"w":0.133},{"m":"All","t":"CR","l":1,"g":"Y","v":6.18,"w":0.095},{"m":"All","t":"CR","l":1,"g":"Y","v":5.8,"w":0.057},{"m":"All","t":"CR","l":1,"g":"Y","v":5.29,"w":0.028},{"m":"All","t":"CR","l":1,"g":"Y","v":4.66,"w":0.015},{"m":"All","t":"CR","l":1,"g":"Y","v":4.0,"w":0.008},
{"m":"All","t":"CR","l":1,"g":"O","v":7.5,"w":0.044},{"m":"All","t":"CR","l":1,"g":"O","v":6.93,"w":0.049},{"m":"All","t":"CR","l":1,"g":"O","v":6.3,"w":0.061},{"m":"All","t":"CR","l":1,"g":"O","v":5.67,"w":0.098},{"m":"All","t":"CR","l":1,"g":"O","v":5.04,"w":0.152},{"m":"All","t":"CR","l":1,"g":"O","v":4.66,"w":0.174},{"m":"All","t":"CR","l":1,"g":"O","v":4.28,"w":0.152},{"m":"All","t":"CR","l":1,"g":"O","v":3.78,"w":0.076},{"m":"All","t":"CR","l":1,"g":"O","v":3.15,"w":0.038},{"m":"All","t":"CR","l":1,"g":"O","v":2.52,"w":0.038},{"m":"All","t":"CR","l":1,"g":"O","v":2.14,"w":0.042},{"m":"All","t":"CR","l":1,"g":"O","v":1.51,"w":0.028},
{"m":"All","t":"CR","l":2,"g":"Y","v":9.67,"w":0.034},{"m":"All","t":"CR","l":2,"g":"Y","v":9.07,"w":0.042},{"m":"All","t":"CR","l":2,"g":"Y","v":8.57,"w":0.095},{"m":"All","t":"CR","l":2,"g":"Y","v":8.07,"w":0.142},{"m":"All","t":"CR","l":2,"g":"Y","v":7.81,"w":0.167},{"m":"All","t":"CR","l":2,"g":"Y","v":7.44,"w":0.148},{"m":"All","t":"CR","l":2,"g":"Y","v":6.93,"w":0.136},{"m":"All","t":"CR","l":2,"g":"Y","v":6.43,"w":0.104},{"m":"All","t":"CR","l":2,"g":"Y","v":5.99,"w":0.085},
{"m":"All","t":"CR","l":2,"g":"O","v":7.81,"w":0.015},{"m":"All","t":"CR","l":2,"g":"O","v":7.18,"w":0.028},{"m":"All","t":"CR","l":2,"g":"O","v":6.55,"w":0.053},{"m":"All","t":"CR","l":2,"g":"O","v":5.92,"w":0.091},{"m":"All","t":"CR","l":2,"g":"O","v":5.29,"w":0.123},{"m":"All","t":"CR","l":2,"g":"O","v":4.85,"w":0.138},{"m":"All","t":"CR","l":2,"g":"O","v":4.28,"w":0.11},{"m":"All","t":"CR","l":2,"g":"O","v":3.78,"w":0.063},{"m":"All","t":"CR","l":2,"g":"O","v":3.15,"w":0.034},{"m":"All","t":"CR","l":2,"g":"O","v":2.52,"w":0.019},{"m":"All","t":"CR","l":2,"g":"O","v":1.99,"w":0.015},
{"m":"Remember","t":"CR","l":1,"g":"Y","v":9.16,"w":0.023},{"m":"Remember","t":"CR","l":1,"g":"Y","v":8.44,"w":0.034},{"m":"Remember","t":"CR","l":1,"g":"Y","v":7.81,"w":0.044},{"m":"Remember","t":"CR","l":1,"g":"Y","v":7.18,"w":0.057},{"m":"Remember","t":"CR","l":1,"g":"Y","v":6.55,"w":0.072},{"m":"Remember","t":"CR","l":1,"g":"Y","v":5.8,"w":0.091},{"m":"Remember","t":"CR","l":1,"g":"Y","v":5.17,"w":0.095},{"m":"Remember","t":"CR","l":1,"g":"Y","v":4.54,"w":0.091},{"m":"Remember","t":"CR","l":1,"g":"Y","v":3.91,"w":0.08},{"m":"Remember","t":"CR","l":1,"g":"Y","v":3.28,"w":0.068},{"m":"Remember","t":"CR","l":1,"g":"Y","v":2.52,"w":0.053},{"m":"Remember","t":"CR","l":1,"g":"Y","v":1.76,"w":0.038},{"m":"Remember","t":"CR","l":1,"g":"Y","v":1.01,"w":0.027},{"m":"Remember","t":"CR","l":1,"g":"Y","v":0.32,"w":0.019},
{"m":"Remember","t":"CR","l":1,"g":"O","v":7.33,"w":0.015},{"m":"Remember","t":"CR","l":1,"g":"O","v":6.55,"w":0.038},{"m":"Remember","t":"CR","l":1,"g":"O","v":5.8,"w":0.053},{"m":"Remember","t":"CR","l":1,"g":"O","v":4.79,"w":0.068},{"m":"Remember","t":"CR","l":1,"g":"O","v":3.78,"w":0.076},{"m":"Remember","t":"CR","l":1,"g":"O","v":2.77,"w":0.08},{"m":"Remember","t":"CR","l":1,"g":"O","v":1.76,"w":0.08},{"m":"Remember","t":"CR","l":1,"g":"O","v":0.88,"w":0.072},{"m":"Remember","t":"CR","l":1,"g":"O","v":0.15,"w":0.049},
{"m":"Remember","t":"CR","l":2,"g":"Y","v":9.67,"w":0.015},{"m":"Remember","t":"CR","l":2,"g":"Y","v":8.44,"w":0.028},{"m":"Remember","t":"CR","l":2,"g":"Y","v":7.18,"w":0.057},{"m":"Remember","t":"CR","l":2,"g":"Y","v":6.3,"w":0.098},{"m":"Remember","t":"CR","l":2,"g":"Y","v":5.54,"w":0.142},{"m":"Remember","t":"CR","l":2,"g":"Y","v":4.79,"w":0.17},{"m":"Remember","t":"CR","l":2,"g":"Y","v":4.28,"w":0.167},{"m":"Remember","t":"CR","l":2,"g":"Y","v":3.65,"w":0.104},{"m":"Remember","t":"CR","l":2,"g":"Y","v":3.02,"w":0.066},{"m":"Remember","t":"CR","l":2,"g":"Y","v":2.14,"w":0.057},{"m":"Remember","t":"CR","l":2,"g":"Y","v":1.51,"w":0.066},{"m":"Remember","t":"CR","l":2,"g":"Y","v":1.01,"w":0.057},{"m":"Remember","t":"CR","l":2,"g":"Y","v":0.5,"w":0.047},
{"m":"Remember","t":"CR","l":2,"g":"O","v":7.5,"w":0.019},{"m":"Remember","t":"CR","l":2,"g":"O","v":6.55,"w":0.038},{"m":"Remember","t":"CR","l":2,"g":"O","v":5.54,"w":0.064},{"m":"Remember","t":"CR","l":2,"g":"O","v":4.54,"w":0.083},{"m":"Remember","t":"CR","l":2,"g":"O","v":3.28,"w":0.098},{"m":"Remember","t":"CR","l":2,"g":"O","v":2.02,"w":0.098},{"m":"Remember","t":"CR","l":2,"g":"O","v":1.01,"w":0.089},{"m":"Remember","t":"CR","l":2,"g":"O","v":0.0,"w":0.061},
{"m":"Know","t":"CR","l":1,"g":"Y","v":7.66,"w":0.015},{"m":"Know","t":"CR","l":1,"g":"Y","v":6.55,"w":0.021},{"m":"Know","t":"CR","l":1,"g":"Y","v":5.29,"w":0.025},{"m":"Know","t":"CR","l":1,"g":"Y","v":4.03,"w":0.032},{"m":"Know","t":"CR","l":1,"g":"Y","v":3.02,"w":0.063},{"m":"Know","t":"CR","l":1,"g":"Y","v":2.27,"w":0.095},{"m":"Know","t":"CR","l":1,"g":"Y","v":1.64,"w":0.119},{"m":"Know","t":"CR","l":1,"g":"Y","v":1.01,"w":0.115},{"m":"Know","t":"CR","l":1,"g":"Y","v":0.38,"w":0.095},{"m":"Know","t":"CR","l":1,"g":"Y","v":0.0,"w":0.085},
{"m":"Know","t":"CR","l":1,"g":"O","v":5.8,"w":0.013},{"m":"Know","t":"CR","l":1,"g":"O","v":4.66,"w":0.025},{"m":"Know","t":"CR","l":1,"g":"O","v":3.4,"w":0.044},{"m":"Know","t":"CR","l":1,"g":"O","v":2.14,"w":0.085},{"m":"Know","t":"CR","l":1,"g":"O","v":1.26,"w":0.133},{"m":"Know","t":"CR","l":1,"g":"O","v":0.63,"w":0.161},{"m":"Know","t":"CR","l":1,"g":"O","v":0.25,"w":0.17},{"m":"Know","t":"CR","l":1,"g":"O","v":0.0,"w":0.161},
{"m":"Know","t":"CR","l":2,"g":"Y","v":7.33,"w":0.028},{"m":"Know","t":"CR","l":2,"g":"Y","v":6.3,"w":0.038},{"m":"Know","t":"CR","l":2,"g":"Y","v":5.04,"w":0.042},{"m":"Know","t":"CR","l":2,"g":"Y","v":4.03,"w":0.066},{"m":"Know","t":"CR","l":2,"g":"Y","v":3.02,"w":0.104},{"m":"Know","t":"CR","l":2,"g":"Y","v":2.02,"w":0.123},{"m":"Know","t":"CR","l":2,"g":"Y","v":1.01,"w":0.114},{"m":"Know","t":"CR","l":2,"g":"Y","v":0.0,"w":0.104},
{"m":"Know","t":"CR","l":2,"g":"O","v":6.33,"w":0.013},{"m":"Know","t":"CR","l":2,"g":"O","v":5.04,"w":0.019},{"m":"Know","t":"CR","l":2,"g":"O","v":3.78,"w":0.028},{"m":"Know","t":"CR","l":2,"g":"O","v":2.77,"w":0.044},{"m":"Know","t":"CR","l":2,"g":"O","v":2.02,"w":0.076},{"m":"Know","t":"CR","l":2,"g":"O","v":1.26,"w":0.119},{"m":"Know","t":"CR","l":2,"g":"O","v":0.5,"w":0.157},{"m":"Know","t":"CR","l":2,"g":"O","v":0.0,"w":0.142},
{"m":"All","t":"II","l":1,"g":"Y","v":2.31,"w":0.019},{"m":"All","t":"II","l":1,"g":"Y","v":2.02,"w":0.013},{"m":"All","t":"II","l":1,"g":"Y","v":1.64,"w":0.032},{"m":"All","t":"II","l":1,"g":"Y","v":1.26,"w":0.07},{"m":"All","t":"II","l":1,"g":"Y","v":0.95,"w":0.108},{"m":"All","t":"II","l":1,"g":"Y","v":0.63,"w":0.165},{"m":"All","t":"II","l":1,"g":"Y","v":0.38,"w":0.117},{"m":"All","t":"II","l":1,"g":"Y","v":0.13,"w":0.061},{"m":"All","t":"II","l":1,"g":"Y","v":0.0,"w":0.032},
{"m":"All","t":"II","l":1,"g":"O","v":3.81,"w":0.004},{"m":"All","t":"II","l":1,"g":"O","v":3.03,"w":0.009},{"m":"All","t":"II","l":1,"g":"O","v":2.53,"w":0.034},{"m":"All","t":"II","l":1,"g":"O","v":2.02,"w":0.072},{"m":"All","t":"II","l":1,"g":"O","v":1.52,"w":0.08},{"m":"All","t":"II","l":1,"g":"O","v":1.01,"w":0.085},{"m":"All","t":"II","l":1,"g":"O","v":0.63,"w":0.085},{"m":"All","t":"II","l":1,"g":"O","v":0.48,"w":0.08},
{"m":"All","t":"II","l":2,"g":"Y","v":2.31,"w":0.023},{"m":"All","t":"II","l":2,"g":"Y","v":2.02,"w":0.038},{"m":"All","t":"II","l":2,"g":"Y","v":1.52,"w":0.061},{"m":"All","t":"II","l":2,"g":"Y","v":1.01,"w":0.095},{"m":"All","t":"II","l":2,"g":"Y","v":0.63,"w":0.11},{"m":"All","t":"II","l":2,"g":"Y","v":0.25,"w":0.098},{"m":"All","t":"II","l":2,"g":"Y","v":0.13,"w":0.091},
{"m":"All","t":"II","l":2,"g":"O","v":5.01,"w":0.006},{"m":"All","t":"II","l":2,"g":"O","v":4.17,"w":0.009},{"m":"All","t":"II","l":2,"g":"O","v":3.66,"w":0.025},{"m":"All","t":"II","l":2,"g":"O","v":3.03,"w":0.044},{"m":"All","t":"II","l":2,"g":"O","v":2.53,"w":0.057},{"m":"All","t":"II","l":2,"g":"O","v":2.02,"w":0.063},{"m":"All","t":"II","l":2,"g":"O","v":1.52,"w":0.057},{"m":"All","t":"II","l":2,"g":"O","v":1.01,"w":0.047},{"m":"All","t":"II","l":2,"g":"O","v":0.63,"w":0.038},
{"m":"Remember","t":"II","l":1,"g":"Y","v":0.66,"w":0.042},{"m":"Remember","t":"II","l":1,"g":"Y","v":0.51,"w":0.047},{"m":"Remember","t":"II","l":1,"g":"Y","v":0.38,"w":0.085},{"m":"Remember","t":"II","l":1,"g":"Y","v":0.25,"w":0.104},{"m":"Remember","t":"II","l":1,"g":"Y","v":0.13,"w":0.152},{"m":"Remember","t":"II","l":1,"g":"Y","v":0.03,"w":0.155},
{"m":"Remember","t":"II","l":1,"g":"O","v":3.81,"w":0.006},{"m":"Remember","t":"II","l":1,"g":"O","v":2.78,"w":0.009},{"m":"Remember","t":"II","l":1,"g":"O","v":1.89,"w":0.019},{"m":"Remember","t":"II","l":1,"g":"O","v":1.26,"w":0.025},{"m":"Remember","t":"II","l":1,"g":"O","v":0.76,"w":0.032},{"m":"Remember","t":"II","l":1,"g":"O","v":0.32,"w":0.038},{"m":"Remember","t":"II","l":1,"g":"O","v":0.0,"w":0.038},
{"m":"Remember","t":"II","l":2,"g":"Y","v":1.64,"w":0.004},{"m":"Remember","t":"II","l":2,"g":"Y","v":1.26,"w":0.019},{"m":"Remember","t":"II","l":2,"g":"Y","v":0.88,"w":0.038},{"m":"Remember","t":"II","l":2,"g":"Y","v":0.51,"w":0.053},{"m":"Remember","t":"II","l":2,"g":"Y","v":0.19,"w":0.076},{"m":"Remember","t":"II","l":2,"g":"Y","v":0.0,"w":0.076},
{"m":"Remember","t":"II","l":2,"g":"O","v":5.01,"w":0.004},{"m":"Remember","t":"II","l":2,"g":"O","v":4.17,"w":0.006},{"m":"Remember","t":"II","l":2,"g":"O","v":3.54,"w":0.013},{"m":"Remember","t":"II","l":2,"g":"O","v":2.78,"w":0.019},{"m":"Remember","t":"II","l":2,"g":"O","v":1.77,"w":0.025},{"m":"Remember","t":"II","l":2,"g":"O","v":0.76,"w":0.025},{"m":"Remember","t":"II","l":2,"g":"O","v":0.0,"w":0.021},
{"m":"Know","t":"II","l":1,"g":"Y","v":1.67,"w":0.009},{"m":"Know","t":"II","l":1,"g":"Y","v":1.52,"w":0.015},{"m":"Know","t":"II","l":1,"g":"Y","v":1.14,"w":0.038},{"m":"Know","t":"II","l":1,"g":"Y","v":0.76,"w":0.081},{"m":"Know","t":"II","l":1,"g":"Y","v":0.44,"w":0.123},{"m":"Know","t":"II","l":1,"g":"Y","v":0.19,"w":0.146},{"m":"Know","t":"II","l":1,"g":"Y","v":0.03,"w":0.138},
{"m":"Know","t":"II","l":1,"g":"O","v":1.79,"w":0.028},{"m":"Know","t":"II","l":1,"g":"O","v":1.39,"w":0.038},{"m":"Know","t":"II","l":1,"g":"O","v":1.01,"w":0.047},{"m":"Know","t":"II","l":1,"g":"O","v":0.63,"w":0.076},{"m":"Know","t":"II","l":1,"g":"O","v":0.25,"w":0.133},{"m":"Know","t":"II","l":1,"g":"O","v":0.0,"w":0.161},
{"m":"Know","t":"II","l":2,"g":"Y","v":1.49,"w":0.038},{"m":"Know","t":"II","l":2,"g":"Y","v":1.2,"w":0.047},{"m":"Know","t":"II","l":2,"g":"Y","v":0.88,"w":0.076},{"m":"Know","t":"II","l":2,"g":"Y","v":0.57,"w":0.104},{"m":"Know","t":"II","l":2,"g":"Y","v":0.25,"w":0.142},{"m":"Know","t":"II","l":2,"g":"Y","v":0.03,"w":0.133},
{"m":"Know","t":"II","l":2,"g":"O","v":2.02,"w":0.019},{"m":"Know","t":"II","l":2,"g":"O","v":1.7,"w":0.023},{"m":"Know","t":"II","l":2,"g":"O","v":1.26,"w":0.044},{"m":"Know","t":"II","l":2,"g":"O","v":0.88,"w":0.066},{"m":"Know","t":"II","l":2,"g":"O","v":0.51,"w":0.104},{"m":"Know","t":"II","l":2,"g":"O","v":0.19,"w":0.133},{"m":"Know","t":"II","l":2,"g":"O","v":0.0,"w":0.142},
{"m":"All","t":"CR","lab":"Y"},{"m":"All","t":"CR","lab":"O"}
]},
"facet":{
"row":{"field":"t","type":"nominal","sort":["CR","II"],"header":{"title":"Number of Responses","titleOrient":"left","titlePadding":4,"labelOrient":"right","labelAngle":90,"labelExpr":"datum.value=='CR'?'Correct Recalls':'Intratrial Intrusions'","labelFontSize":15,"labelPadding":4}},
"column":{"field":"m","type":"nominal","sort":["All","Remember","Know"],"header":{"title":"Recall List","titleOrient":"bottom","titlePadding":2,"labelFontSize":15,"labelPadding":4}}
},
"spacing":{"row":0,"column":0},
"spec":{
"width":372,"height":340,
"resolve":{"scale":{"x":"shared"}},
"layer":[
{"resolve":{"scale":{"x":"independent"}},
"layer":[
{"transform":[{"filter":"datum.w!=null&&datum.g=='Y'&&datum.l==1"}],"mark":{"type":"area","orient":"horizontal","fill":"#4169E1","fillOpacity":0.82,"stroke":"#000","strokeWidth":1.2},
"encoding":{"y":{"field":"v","type":"quantitative","scale":{"domain":[-0.2,12.8],"nice":false,"zero":false},"title":null},"x":{"field":"w","type":"quantitative","scale":{"domain":[-0.341,1.778],"nice":false,"zero":false},"axis":null},"x2":{"datum":0}}},
{"transform":[{"filter":"datum.w!=null&&datum.g=='Y'&&datum.l==2"}],"mark":{"type":"area","orient":"horizontal","fill":"#4169E1","fillOpacity":0.82,"stroke":"#000","strokeWidth":1.2},
"encoding":{"y":{"field":"v","type":"quantitative","scale":{"domain":[-0.2,12.8],"nice":false,"zero":false},"title":null},"x":{"field":"w","type":"quantitative","scale":{"domain":[-1.341,0.778],"nice":false,"zero":false},"axis":null},"x2":{"datum":0}}},
{"transform":[{"filter":"datum.w!=null&&datum.g=='O'&&datum.l==1"}],"mark":{"type":"area","orient":"horizontal","fill":"#F03A3A","fillOpacity":0.82,"stroke":"#000","strokeWidth":1.2},
"encoding":{"y":{"field":"v","type":"quantitative","scale":{"domain":[-0.2,12.8],"nice":false,"zero":false},"title":null},"x":{"field":"w","type":"quantitative","scale":{"domain":[-0.73,1.389],"nice":false,"zero":false},"axis":null},"x2":{"datum":0}}},
{"transform":[{"filter":"datum.w!=null&&datum.g=='O'&&datum.l==2"}],"mark":{"type":"area","orient":"horizontal","fill":"#F03A3A","fillOpacity":0.82,"stroke":"#000","strokeWidth":1.2},
"encoding":{"y":{"field":"v","type":"quantitative","scale":{"domain":[-0.2,12.8],"nice":false,"zero":false},"title":null},"x":{"field":"w","type":"quantitative","scale":{"domain":[-1.73,0.389],"nice":false,"zero":false},"axis":null},"x2":{"datum":0}}},
{"transform":[{"filter":"datum.w==null&&datum.v!=null&&datum.g=='Y'"}],"mark":{"type":"point","shape":"circle","filled":true,"size":30,"fill":"#4169E1","fillOpacity":0.3,"stroke":"#2F55D4","strokeOpacity":0.65,"strokeWidth":1},
"encoding":{"y":{"field":"v","type":"quantitative","scale":{"domain":[-0.2,12.8],"nice":false,"zero":false},"title":null},"x":{"field":"l","type":"quantitative","scale":{"domain":[0.81,2.929],"nice":false,"zero":false},"axis":null}}},
{"transform":[{"filter":"datum.w==null&&datum.v!=null&&datum.g=='O'"}],"mark":{"type":"point","shape":"circle","filled":true,"size":30,"fill":"#F03A3A","fillOpacity":0.3,"stroke":"#E02828","strokeOpacity":0.6,"strokeWidth":1},
"encoding":{"y":{"field":"v","type":"quantitative","scale":{"domain":[-0.2,12.8],"nice":false,"zero":false},"title":null},"x":{"field":"l","type":"quantitative","scale":{"domain":[0.409,2.528],"nice":false,"zero":false},"axis":null}}},
{"transform":[{"filter":"datum.q1!=null&&datum.g=='Y'"}],"mark":{"type":"bar","width":18,"fill":"#4169E1","fillOpacity":0.6,"stroke":"#2B4FC7","strokeWidth":0.8},
"encoding":{"y":{"field":"q1","type":"quantitative","scale":{"domain":[-0.2,12.8],"nice":false,"zero":false},"title":null},"y2":{"field":"q3"},"x":{"field":"l","type":"quantitative","scale":{"domain":[0.659,2.778],"nice":false,"zero":false},"axis":null}}},
{"transform":[{"filter":"datum.q1!=null&&datum.g=='O'"}],"mark":{"type":"bar","width":18,"fill":"#F03A3A","fillOpacity":0.6,"stroke":"#D02020","strokeWidth":0.8},
"encoding":{"y":{"field":"q1","type":"quantitative","scale":{"domain":[-0.2,12.8],"nice":false,"zero":false},"title":null},"y2":{"field":"q3"},"x":{"field":"l","type":"quantitative","scale":{"domain":[0.27,2.389],"nice":false,"zero":false},"axis":null}}},
{"transform":[{"filter":"datum.q1!=null&&datum.g=='Y'"}],"mark":{"type":"rule","color":"#111","strokeWidth":0.8},
"encoding":{"y":{"field":"lo","type":"quantitative","scale":{"domain":[-0.2,12.8],"nice":false,"zero":false},"title":null},"y2":{"field":"hi"},"x":{"field":"l","type":"quantitative","scale":{"domain":[0.659,2.778],"nice":false,"zero":false},"axis":null}}},
{"transform":[{"filter":"datum.q1!=null&&datum.g=='O'"}],"mark":{"type":"rule","color":"#111","strokeWidth":0.8},
"encoding":{"y":{"field":"lo","type":"quantitative","scale":{"domain":[-0.2,12.8],"nice":false,"zero":false},"title":null},"y2":{"field":"hi"},"x":{"field":"l","type":"quantitative","scale":{"domain":[0.27,2.389],"nice":false,"zero":false},"axis":null}}},
{"transform":[{"filter":"datum.q1!=null&&datum.g=='Y'"}],"mark":{"type":"tick","orient":"horizontal","size":8,"thickness":1,"color":"#111"},
"encoding":{"y":{"field":"lo","type":"quantitative","scale":{"domain":[-0.2,12.8],"nice":false,"zero":false},"title":null},"x":{"field":"l","type":"quantitative","scale":{"domain":[0.659,2.778],"nice":false,"zero":false},"axis":null}}},
{"transform":[{"filter":"datum.q1!=null&&datum.g=='Y'"}],"mark":{"type":"tick","orient":"horizontal","size":8,"thickness":1,"color":"#111"},
"encoding":{"y":{"field":"hi","type":"quantitative","scale":{"domain":[-0.2,12.8],"nice":false,"zero":false},"title":null},"x":{"field":"l","type":"quantitative","scale":{"domain":[0.659,2.778],"nice":false,"zero":false},"axis":null}}},
{"transform":[{"filter":"datum.q1!=null&&datum.g=='O'"}],"mark":{"type":"tick","orient":"horizontal","size":8,"thickness":1,"color":"#111"},
"encoding":{"y":{"field":"lo","type":"quantitative","scale":{"domain":[-0.2,12.8],"nice":false,"zero":false},"title":null},"x":{"field":"l","type":"quantitative","scale":{"domain":[0.27,2.389],"nice":false,"zero":false},"axis":null}}},
{"transform":[{"filter":"datum.q1!=null&&datum.g=='O'"}],"mark":{"type":"tick","orient":"horizontal","size":8,"thickness":1,"color":"#111"},
"encoding":{"y":{"field":"hi","type":"quantitative","scale":{"domain":[-0.2,12.8],"nice":false,"zero":false},"title":null},"x":{"field":"l","type":"quantitative","scale":{"domain":[0.27,2.389],"nice":false,"zero":false},"axis":null}}},
{"transform":[{"filter":"datum.q1!=null&&datum.g=='Y'"}],"mark":{"type":"tick","orient":"horizontal","size":18,"thickness":2,"color":"#000"},
"encoding":{"y":{"field":"med","type":"quantitative","scale":{"domain":[-0.2,12.8],"nice":false,"zero":false},"title":null},"x":{"field":"l","type":"quantitative","scale":{"domain":[0.659,2.778],"nice":false,"zero":false},"axis":null}}},
{"transform":[{"filter":"datum.q1!=null&&datum.g=='O'"}],"mark":{"type":"tick","orient":"horizontal","size":18,"thickness":2,"color":"#000"},
"encoding":{"y":{"field":"med","type":"quantitative","scale":{"domain":[-0.2,12.8],"nice":false,"zero":false},"title":null},"x":{"field":"l","type":"quantitative","scale":{"domain":[0.27,2.389],"nice":false,"zero":false},"axis":null}}},
{"transform":[{"filter":"datum.q1!=null&&datum.g=='Y'"}],"mark":{"type":"point","shape":"diamond","filled":true,"size":150,"fill":"#fff","stroke":"#333","strokeWidth":0.8,"opacity":1},
"encoding":{"y":{"field":"mean","type":"quantitative","scale":{"domain":[-0.2,12.8],"nice":false,"zero":false},"title":null},"x":{"field":"l","type":"quantitative","scale":{"domain":[0.659,2.778],"nice":false,"zero":false},"axis":null}}},
{"transform":[{"filter":"datum.q1!=null&&datum.g=='O'"}],"mark":{"type":"point","shape":"diamond","filled":true,"size":150,"fill":"#fff","stroke":"#333","strokeWidth":0.8,"opacity":1},
"encoding":{"y":{"field":"mean","type":"quantitative","scale":{"domain":[-0.2,12.8],"nice":false,"zero":false},"title":null},"x":{"field":"l","type":"quantitative","scale":{"domain":[0.27,2.389],"nice":false,"zero":false},"axis":null}}}
]},
{"transform":[{"filter":"datum.lab=='Y'"}],"mark":{"type":"text","text":"Younger","align":"left","baseline":"middle","fontSize":17,"color":"#4169E1"},
"encoding":{"y":{"datum":11.87,"type":"quantitative","scale":{"domain":[-0.2,12.8],"nice":false,"zero":false},"title":null,"axis":{"tickSize":4,"labelPadding":2}},"x":{"datum":0.651,"type":"quantitative","scale":{"domain":[0.446,2.565],"nice":false,"zero":false},"title":null,"axis":{"values":[1,2],"labelExpr":"'List ' + datum.value","labelFontSize":15,"tickSize":3,"labelPadding":1}}}},
{"transform":[{"filter":"datum.lab=='O'"}],"mark":{"type":"text","text":"Older","align":"left","baseline":"middle","fontSize":17,"color":"#EE2C2C"},
"encoding":{"y":{"datum":10.96,"type":"quantitative","scale":{"domain":[-0.2,12.8],"nice":false,"zero":false},"title":null},"x":{"datum":0.651,"type":"quantitative","scale":{"domain":[0.446,2.565],"nice":false,"zero":false},"title":null,"axis":null}}}
]
}
}
